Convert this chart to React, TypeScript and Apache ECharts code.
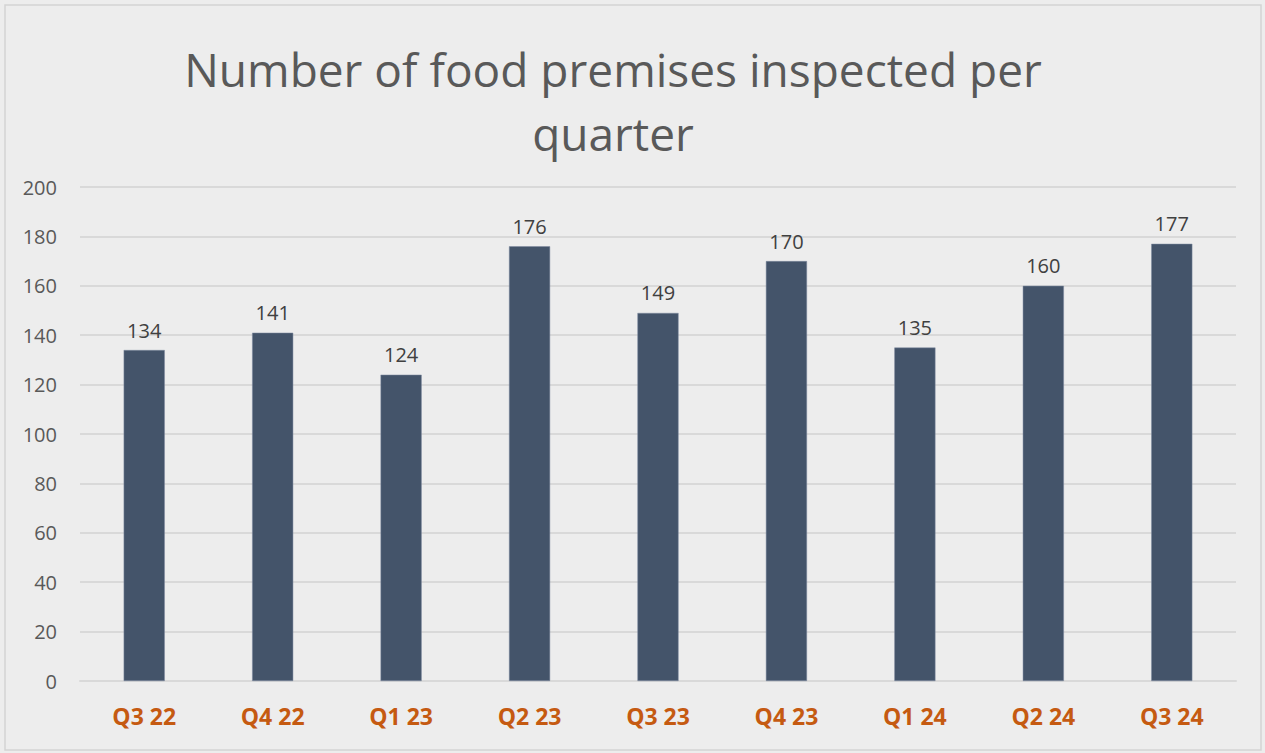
import React, { useEffect, useRef } from "react";
import * as echarts from "echarts";

const categories = ["Q3 22", "Q4 22", "Q1 23", "Q2 23", "Q3 23", "Q4 23", "Q1 24", "Q2 24", "Q3 24"];
const inspected = [134, 141, 124, 176, 149, 170, 135, 160, 177];
const titleLines = ["Number of food premises inspected per", "quarter"];

export default function App() {
  const ref = useRef<HTMLDivElement>(null);
  useEffect(() => {
    document.body.style.margin = "0";
    const chart = echarts.init(ref.current!, null, { renderer: "svg" });
    chart.setOption({
      animation: false,
      backgroundColor: "#ededed",
      title: {
        text: titleLines.join("\n"),
        left: 608,
        top: 32,
        textAlign: "center",
        textStyle: {
          fontFamily: "Open Sans",
          fontSize: 46,
          fontWeight: "normal",
          color: "#595959",
          lineHeight: 64,
        },
      },
      graphic: [
        {
          type: "rect",
          shape: { x: 5, y: 5, width: 1256, height: 745 },
          style: { fill: "none", stroke: "#d4d4d4", lineWidth: 1.5 },
          silent: true,
        },
      ],
      grid: { left: 80, right: 29, top: 187, bottom: 72, containLabel: false },
      xAxis: {
        type: "category",
        data: categories,
        axisLine: { show: true, lineStyle: { color: "#d9d9d9", width: 2 } },
        axisTick: { show: false },
        axisLabel: {
          color: "#c55a11",
          fontFamily: "Open Sans",
          fontWeight: "bold",
          fontSize: 23,
          margin: 23,
        },
      },
      yAxis: {
        type: "value",
        min: 0,
        max: 200,
        interval: 20,
        axisLine: { show: false },
        axisTick: { show: false },
        splitLine: { lineStyle: { color: "#d9d9d9", width: 2 } },
        axisLabel: {
          color: "#595959",
          fontFamily: "Open Sans",
          fontSize: 20,
          margin: 23,
        },
      },
      series: [
        {
          type: "bar",
          data: inspected,
          barWidth: "32%",
          itemStyle: { color: "#44546a", borderColor: "#7f8ba0", borderWidth: 0.5 },
          label: {
            show: true,
            position: "top",
            distance: 10,
            color: "#404040",
            fontFamily: "Open Sans",
            fontSize: 20,
          },
        },
      ],
    });
    return () => chart.dispose();
  }, []);
  return <div ref={ref} style={{ width: 1265, height: 753 }} />;
}
